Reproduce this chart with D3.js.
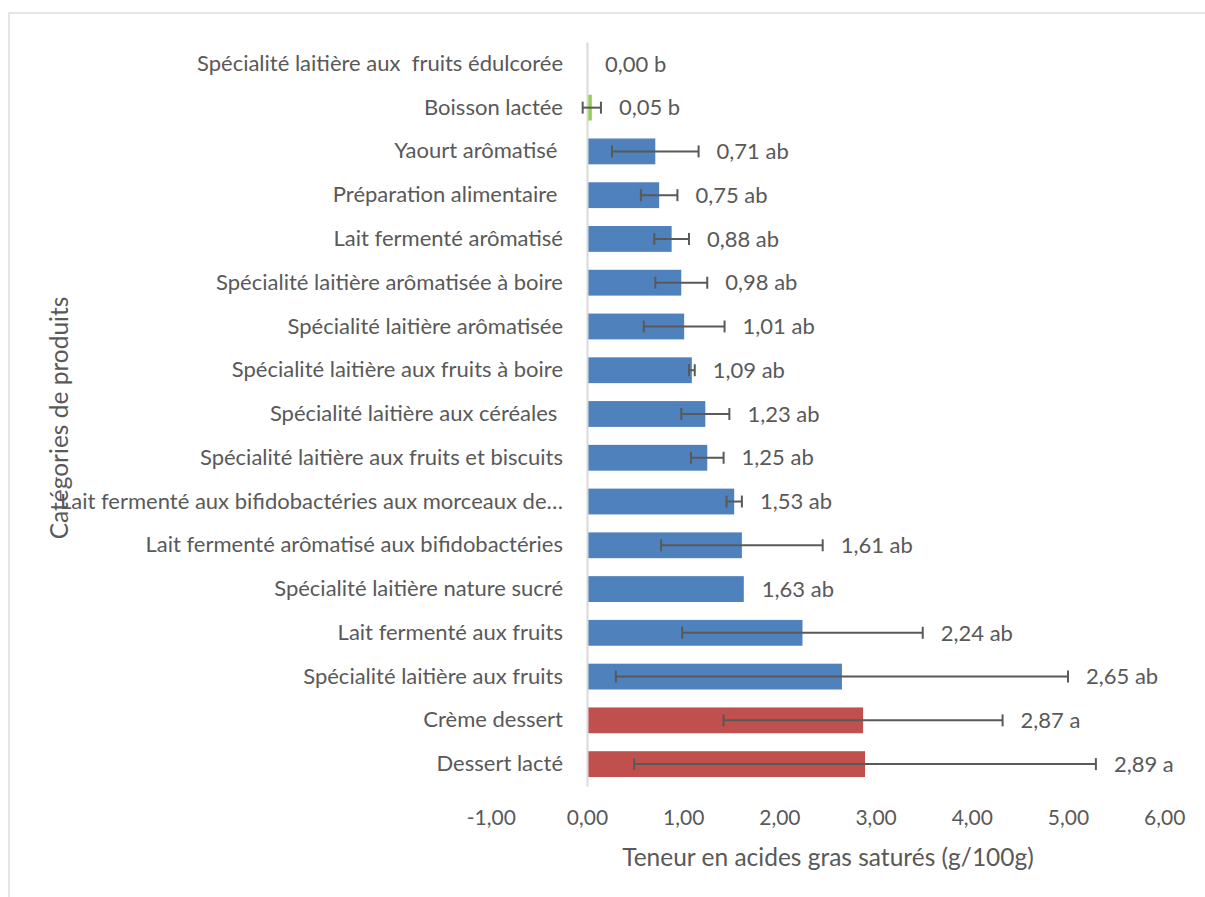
<!DOCTYPE html>
<html lang="fr">
<head>
<meta charset="utf-8">
<title>Teneur en acides gras saturés par catégorie de produits</title>
<script src="https://cdn.jsdelivr.net/npm/d3@7/dist/d3.min.js"></script>
<style>
  html, body { margin: 0; padding: 0; background: #ffffff; }
  svg { display: block; }
  text { font-family: Lato, "Open Sans", "DejaVu Sans", sans-serif; fill: #595959; }
</style>
</head>
<body>
<svg id="chart" width="1205" height="897"></svg>
<script>
// Product categories, listed top to bottom
const categories = [
  "Spécialité laitière aux  fruits édulcorée",
  "Boisson lactée",
  "Yaourt arômatisé ",
  "Préparation alimentaire ",
  "Lait fermenté arômatisé",
  "Spécialité laitière arômatisée à boire",
  "Spécialité laitière arômatisée",
  "Spécialité laitière aux fruits à boire",
  "Spécialité laitière aux céréales ",
  "Spécialité laitière aux fruits et biscuits",
  "Lait fermenté aux bifidobactéries aux morceaux de…",
  "Lait fermenté arômatisé aux bifidobactéries",
  "Spécialité laitière nature sucré",
  "Lait fermenté aux fruits",
  "Spécialité laitière aux fruits",
  "Crème dessert",
  "Dessert lacté"
];

// Mean saturated fat content (g/100g)
const values = [0.00, 0.05, 0.71, 0.75, 0.88, 0.98, 1.01, 1.09, 1.23, 1.25, 1.53, 1.61, 1.63, 2.24, 2.65, 2.87, 2.89];

// Standard deviation shown as error bars
const errors = [0.00, 0.095, 0.45, 0.19, 0.18, 0.27, 0.42, 0.03, 0.25, 0.17, 0.08, 0.84, 0.00, 1.25, 2.35, 1.45, 2.40];

// Significance group letters
const groups = ["b", "b", "ab", "ab", "ab", "ab", "ab", "ab", "ab", "ab", "ab", "ab", "ab", "ab", "ab", "a", "a"];

// X axis tick values
const xTicks = [-1, 0, 1, 2, 3, 4, 5, 6];

const xTitle = "Teneur en acides gras saturés (g/100g)";
const yTitle = "Catégories de produits";

const groupColor = { "a": "#C0504D", "ab": "#4F81BD", "b": "#92D050" };
const fmt = v => d3.format(".2f")(v).replace(".", ",").replace("\u2212", "-");

const svg = d3.select("#chart");

// Outer chart frame
svg.append("rect")
  .attr("x", 9).attr("y", 13)
  .attr("width", 1210).attr("height", 900)
  .attr("fill", "none")
  .attr("stroke", "#d9d9d9")
  .attr("stroke-width", 1.3);

const x = d3.scaleLinear().domain([-1, 6]).range([490.8, 1164.2]);
const y = d3.scaleBand().domain(categories).range([42, 786])
  .paddingInner(0.41).paddingOuter(0.205);

const rows = categories.map((c, i) => ({ cat: c, v: values[i], e: errors[i], g: groups[i] }));

// Bars
svg.append("g").selectAll("rect")
  .data(rows.filter(d => d.v > 0))
  .join("rect")
  .attr("x", d => x(0))
  .attr("y", d => y(d.cat))
  .attr("width", d => x(d.v) - x(0))
  .attr("height", y.bandwidth())
  .attr("fill", d => groupColor[d.g]);

// Category axis at zero
const yAxis = svg.append("g")
  .attr("transform", `translate(${x(0)},0)`)
  .call(d3.axisLeft(y).tickSize(0).tickSizeOuter(0).tickPadding(24));
yAxis.select(".domain").attr("stroke", "#d9d9d9").attr("stroke-width", 2);
yAxis.selectAll("text")
  .attr("font-size", 22)
  .style("white-space", "pre")
  .style("font-family", "Lato, 'Open Sans', sans-serif")
  .attr("fill", "#595959");

// Error bars
const eb = svg.append("g").selectAll("g")
  .data(rows.filter(d => d.e > 0))
  .join("g")
  .attr("stroke", "#595959")
  .attr("stroke-width", 2);
eb.append("line")
  .attr("x1", d => x(d.v - d.e)).attr("x2", d => x(d.v + d.e))
  .attr("y1", d => y(d.cat) + y.bandwidth() / 2)
  .attr("y2", d => y(d.cat) + y.bandwidth() / 2);
eb.selectAll("line.cap")
  .data(d => [d.v - d.e, d.v + d.e].map(val => ({ val, cat: d.cat })))
  .join("line")
  .attr("class", "cap")
  .attr("x1", d => x(d.val)).attr("x2", d => x(d.val))
  .attr("y1", d => y(d.cat) + y.bandwidth() / 2 - 6)
  .attr("y2", d => y(d.cat) + y.bandwidth() / 2 + 6);

// Value labels with significance letters
svg.append("g").selectAll("text")
  .data(rows)
  .join("text")
  .attr("x", d => x(Math.max(d.v, d.v + d.e)) + 18)
  .attr("y", d => y(d.cat) + y.bandwidth() / 2)
  .attr("dy", "0.35em")
  .attr("font-size", 22)
  .text(d => `${fmt(d.v)} ${d.g}`);

// Value axis (labels only)
const xAxis = svg.append("g")
  .attr("transform", "translate(0,786)")
  .call(d3.axisBottom(x).tickValues(xTicks).tickFormat(fmt).tickSize(0).tickPadding(24));
xAxis.select(".domain").remove();
xAxis.selectAll("text")
  .attr("font-size", 21)
  .style("font-family", "Lato, 'Open Sans', sans-serif")
  .attr("fill", "#595959");

// Axis titles
svg.append("text")
  .attr("x", 828).attr("y", 866)
  .attr("text-anchor", "middle")
  .attr("font-size", 24.5)
  .text(xTitle);

svg.append("text")
  .attr("transform", "translate(68,418) rotate(-90)")
  .attr("text-anchor", "middle")
  .attr("font-size", 24.5)
  .text(yTitle);
</script>
</body>
</html>
